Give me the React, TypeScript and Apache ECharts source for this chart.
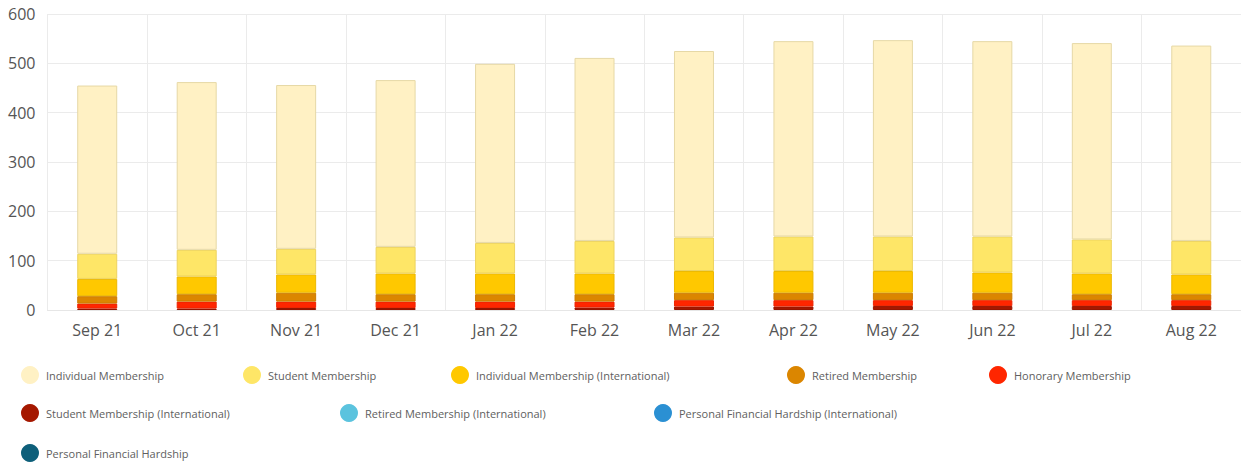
import React, { useEffect, useRef } from "react";
import * as echarts from "echarts";

const months = ["Sep 21", "Oct 21", "Nov 21", "Dec 21", "Jan 22", "Feb 22", "Mar 22", "Apr 22", "May 22", "Jun 22", "Jul 22", "Aug 22"];

const individual = [341, 340, 332, 338, 363, 371, 378, 396, 398, 396, 398, 396];
const student = [51, 54, 52, 54, 62, 66, 68, 70, 70, 73, 69, 68];
const individualIntl = [35, 36, 37, 42, 42, 42, 44, 44, 44, 41, 42, 40];
const retired = [15, 15, 18, 15, 15, 15, 15, 15, 15, 15, 12, 12];
const honorary = [10, 14, 13, 13, 13, 12, 13, 13, 12, 12, 12, 12];
const studentIntl = [3, 3, 4, 4, 4, 5, 7, 7, 8, 8, 8, 8];
const retiredIntl = [0, 0, 0, 0, 0, 0, 0, 0, 0, 0, 0, 0];
const hardshipIntl = [0, 0, 0, 0, 0, 0, 0, 0, 0, 0, 0, 0];
const hardship = [0, 0, 0, 0, 0, 0, 0, 0, 0, 0, 0, 0];

const yTicks = [0, 100, 200, 300, 400, 500, 600];

// legend order (top-left reading order)
const seriesDefs = [
  { name: "Individual Membership", data: individual, color: "#FFF1C4", border: "#E6D8A6" },
  { name: "Student Membership", data: student, color: "#FEE667", border: "#EDD35E" },
  { name: "Individual Membership (International)", data: individualIntl, color: "#FFC800", border: "#ECB800" },
  { name: "Retired Membership", data: retired, color: "#DB8600", border: "#CB7C00" },
  { name: "Honorary Membership", data: honorary, color: "#FF2600", border: "#EE2400" },
  { name: "Student Membership (International)", data: studentIntl, color: "#A51800", border: "#951500" },
  { name: "Retired Membership (International)", data: retiredIntl, color: "#5BC3DE", border: "#4AA8C0" },
  { name: "Personal Financial Hardship (International)", data: hardshipIntl, color: "#2B90D3", border: "#2278B0" },
  { name: "Personal Financial Hardship", data: hardship, color: "#0E5F7A", border: "#0A4A60" },
];

const legendPos = [
  [21, 366], [243, 366], [451, 366], [787, 366], [989, 366],
  [21, 404], [340, 404], [654, 404],
  [21, 444],
];

export default function App() {
  const ref = useRef<HTMLDivElement>(null);
  useEffect(() => {
    document.body.style.margin = "0";
    const chart = echarts.init(ref.current!, null, { renderer: "svg" });
    const stackOrder = [...seriesDefs].reverse();
    chart.setOption({
      animation: false,
      backgroundColor: "#ffffff",
      textStyle: { fontFamily: "Open Sans, sans-serif" },
      grid: { left: 47.5, right: 0, top: 14, bottom: 156, containLabel: false },
      xAxis: {
        type: "category",
        data: months,
        boundaryGap: true,
        axisLine: { show: true, lineStyle: { color: "#E6E6E6" } },
        axisTick: { show: false },
        axisLabel: { color: "#555", fontSize: 16, margin: 12, fontFamily: "Open Sans, sans-serif" },
        splitLine: { show: true, lineStyle: { color: "#EBEBEB", width: 1 } },
      },
      yAxis: {
        type: "value",
        min: yTicks[0],
        max: yTicks[yTicks.length - 1],
        interval: 100,
        axisLine: { show: false },
        axisTick: { show: false },
        axisLabel: { color: "#555", fontSize: 16, margin: 12, fontFamily: "Open Sans, sans-serif" },
        splitLine: { show: true, lineStyle: { color: "#EBEBEB", width: 1 } },
      },
      legend: seriesDefs.map((s, i) => ({
        data: [s.name],
        left: legendPos[i][0],
        top: legendPos[i][1],
        orient: "horizontal",
        icon: "circle",
        itemWidth: 18,
        itemHeight: 18,
        itemGap: 0,
        padding: 0,
        selectedMode: false,
        itemStyle: { borderWidth: 0, color: s.color },
        textStyle: { color: "#606060", fontSize: 11, fontFamily: "Open Sans, sans-serif", padding: [0, 0, 0, 2] },
      })),
      series: stackOrder.map((s) => ({
        name: s.name,
        type: "bar",
        stack: "total",
        barWidth: 40,
        data: s.data.map((v) => (v === 0 ? null : v)),
        itemStyle: { color: s.color, borderColor: s.border, borderWidth: 1 },
        emphasis: { disabled: true },
      })),
    });
    return () => chart.dispose();
  }, []);
  return <div ref={ref} style={{ width: 1241, height: 466 }} />;
}
